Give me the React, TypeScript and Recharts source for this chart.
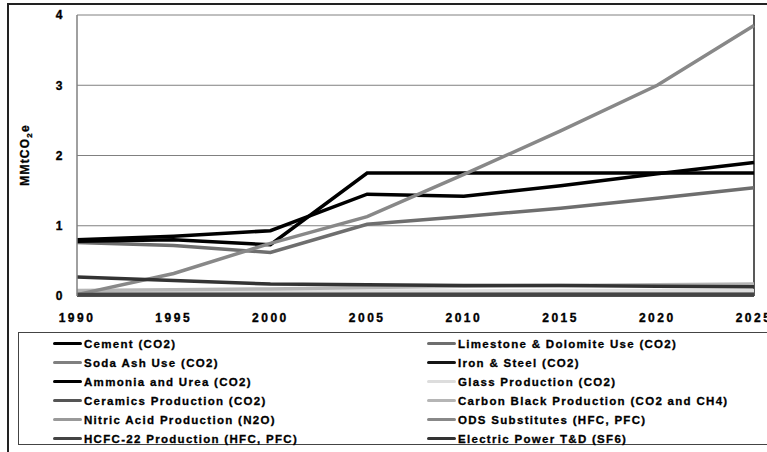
import { LineChart, Line, XAxis, YAxis, CartesianGrid, ReferenceLine } from 'recharts';

const years = ['1990', '1995', '2000', '2005', '2010', '2015', '2020', '2025'];
const yTicks = [0, 1, 2, 3, 4];

const cement = [0.8, 0.85, 0.93, 1.45, 1.42, 1.57, 1.74, 1.9];
const limestone = [0.76, 0.72, 0.62, 1.02, 1.13, 1.25, 1.39, 1.54];
const sodaAsh = [0.04, 0.04, 0.04, 0.04, 0.04, 0.04, 0.04, 0.04];
const ironSteel = [0.01, 0.01, 0.01, 0.01, 0.01, 0.01, 0.01, 0.01];
const ammonia = [0.78, 0.8, 0.73, 1.75, 1.75, 1.75, 1.75, 1.75];
const glass = [0.07, 0.07, 0.07, 0.07, 0.07, 0.08, 0.08, 0.08];
const ceramics = [0.01, 0.01, 0.01, 0.01, 0.01, 0.01, 0.01, 0.01];
const carbonBlack = [0.08, 0.09, 0.1, 0.12, 0.14, 0.15, 0.16, 0.17];
const nitric = [0.03, 0.03, 0.03, 0.03, 0.03, 0.03, 0.03, 0.03];
const ods = [0.02, 0.32, 0.75, 1.13, 1.73, 2.35, 3.0, 3.85];
const hcfc = [0.02, 0.02, 0.02, 0.02, 0.02, 0.02, 0.02, 0.02];
const electric = [0.27, 0.22, 0.17, 0.16, 0.15, 0.15, 0.14, 0.13];

const series = [
  { key: 'cement', name: 'Cement (CO2)', color: '#000000', values: cement },
  { key: 'limestone', name: 'Limestone & Dolomite Use (CO2)', color: '#6e6e6e', values: limestone },
  { key: 'sodaAsh', name: 'Soda Ash Use (CO2)', color: '#808080', values: sodaAsh },
  { key: 'ironSteel', name: 'Iron & Steel (CO2)', color: '#151515', values: ironSteel },
  { key: 'ammonia', name: 'Ammonia and Urea (CO2)', color: '#000000', values: ammonia },
  { key: 'glass', name: 'Glass Production (CO2)', color: '#dddddd', values: glass },
  { key: 'ceramics', name: 'Ceramics Production (CO2)', color: '#555555', values: ceramics },
  { key: 'carbonBlack', name: 'Carbon Black Production (CO2 and CH4)', color: '#b5b5b5', values: carbonBlack },
  { key: 'nitric', name: 'Nitric Acid Production (N2O)', color: '#999999', values: nitric },
  { key: 'ods', name: 'ODS Substitutes (HFC, PFC)', color: '#888888', values: ods },
  { key: 'hcfc', name: 'HCFC-22 Production (HFC, PFC)', color: '#444444', values: hcfc },
  { key: 'electric', name: 'Electric Power T&D (SF6)', color: '#333333', values: electric },
];

const data = years.map((year, i) => {
  const row: Record<string, string | number> = { year };
  series.forEach(s => {
    row[s.key] = s.values[i];
  });
  return row;
});

const font = '"Liberation Sans", Arial, sans-serif';
const tickStyle = {
  fontFamily: font,
  fontWeight: 'bold',
  fontSize: 12,
  fill: '#000',
  stroke: '#000',
  strokeWidth: 0.35,
  letterSpacing: 2.5,
};

const YLabel = () => (
  <text
    x={29}
    y={155}
    transform="rotate(-90, 29, 155)"
    textAnchor="middle"
    fontFamily={font}
    fontWeight="bold"
    fontSize={12}
    letterSpacing={1.2}
    fill="#000"
    stroke="#000"
    strokeWidth={0.35}
  >
    MMtCO
    <tspan dy={3} fontSize={8}>2</tspan>
    <tspan dy={-3}>e</tspan>
  </text>
);

export default function App() {
  return (
    <div style={{ position: 'fixed', left: 0, top: 0, width: 767, height: 452, overflow: 'hidden', background: '#fff' }}>
      <div style={{ position: 'absolute', left: 7, top: 3, width: 800, height: 500, border: '2px solid #222' }} />
      <div style={{ position: 'absolute', left: 0, top: 0 }}>
        <LineChart width={767} height={452} data={data} margin={{ top: 15, right: 13, left: 0, bottom: 126 }}>
          <CartesianGrid horizontal vertical={false} stroke="#808080" strokeWidth={1} />
          <XAxis
            dataKey="year"
            height={30}
            axisLine={false}
            tickLine={false}
            tickSize={6}
            tickMargin={11}
            interval={0}
            tick={tickStyle}
          />
          <YAxis
            width={77}
            domain={[0, 4]}
            ticks={yTicks}
            axisLine={{ stroke: '#808080', strokeWidth: 1.5 }}
            tickLine={false}
            tickSize={0}
            tickMargin={12}
            tick={tickStyle}
            label={<YLabel />}
          />
          <ReferenceLine x="2025" stroke="#222" strokeWidth={1.5} />
          {series.map(s => (
            <Line
              key={s.key}
              type="linear"
              dataKey={s.key}
              name={s.name}
              stroke={s.color}
              strokeWidth={3.5}
              dot={false}
              activeDot={false}
              isAnimationActive={false}
            />
          ))}
        </LineChart>
      </div>
      <div
        style={{
          position: 'absolute',
          left: 18,
          top: 332,
          width: 800,
          height: 113,
          border: '1px solid #444',
          boxSizing: 'border-box',
        }}
      >
        {series.map((s, i) => {
          const col = i % 2;
          const row = Math.floor(i / 2);
          return (
            <div
              key={s.key}
              style={{
                position: 'absolute',
                left: col === 0 ? 34 : 408,
                top: 1 + row * 19,
                height: 19,
                display: 'flex',
                alignItems: 'center',
                whiteSpace: 'nowrap',
              }}
            >
              <span
                style={{
                  display: 'inline-block',
                  width: 29,
                  height: 3.5,
                  borderRadius: 2,
                  background: s.color,
                  marginRight: 2,
                }}
              />
              <span
                style={{
                  fontFamily: font,
                  fontWeight: 'bold',
                  fontSize: 11.5,
                  letterSpacing: 1.3,
                  color: '#000',
                  WebkitTextStroke: '0.3px #000',
                }}
              >
                {s.name}
              </span>
            </div>
          );
        })}
      </div>
    </div>
  );
}
